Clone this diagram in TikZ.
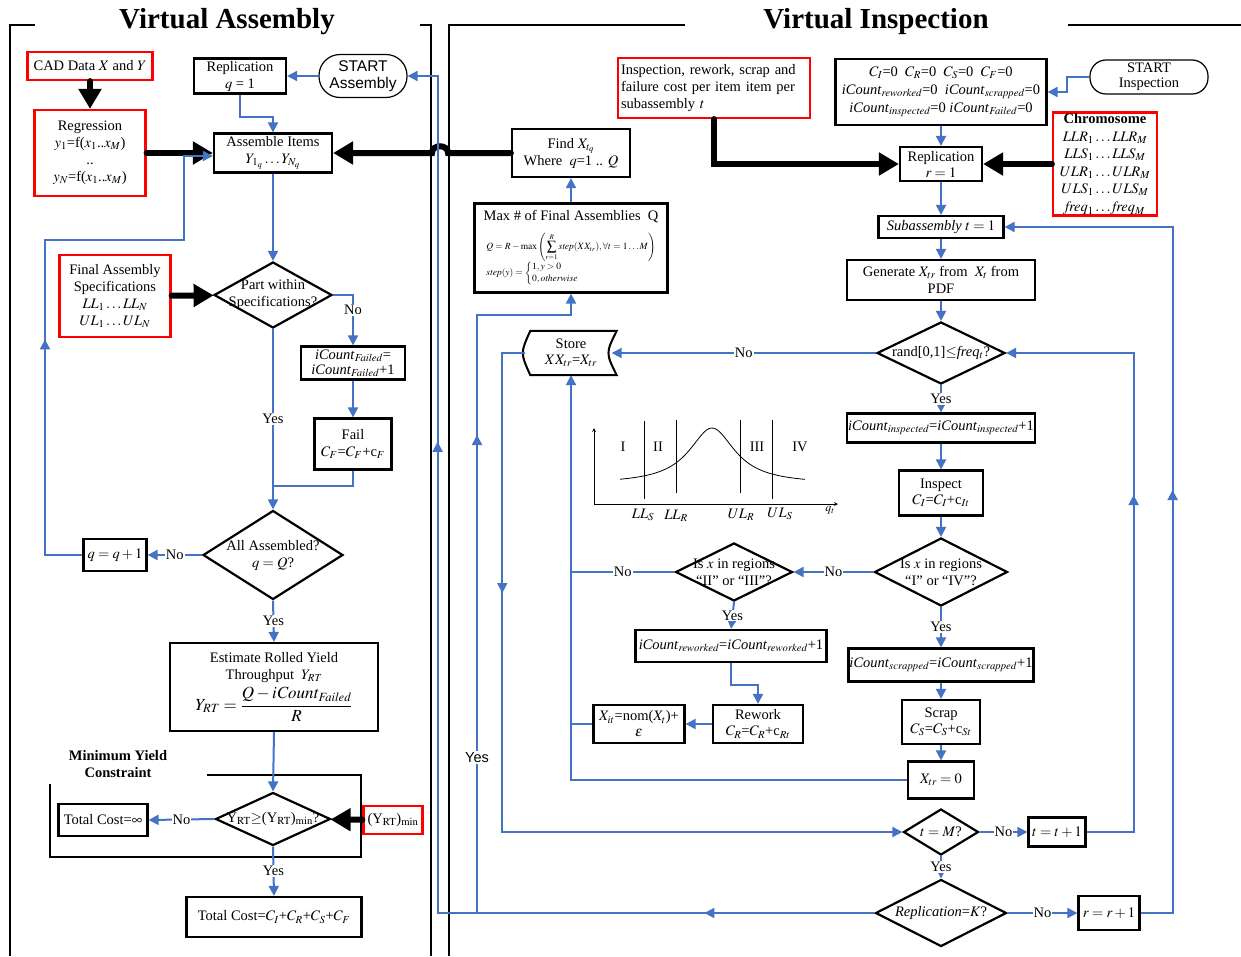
\documentclass[tikz,border=0pt]{standalone}
\usepackage{amsmath}
\usepackage{mathptmx}
\usepackage{fontspec}
\setmainfont{Liberation Serif}
\setsansfont{Liberation Sans}
\usetikzlibrary{shapes.geometric, arrows.meta, positioning, decorations.markings}
\definecolor{flowblue}{RGB}{68,114,196}
\tikzstyle{process} = [rectangle, draw=black, line width=2.2pt, align=center, inner sep=1pt]
\tikzstyle{given} = [rectangle, draw=red, line width=2.2pt, align=center, inner sep=1pt]
\tikzstyle{decision} = [diamond, draw=black, line width=2.2pt, inner sep=0pt]
\tikzstyle{startstop} = [rectangle, rounded corners=16pt, draw=black, line width=1.2pt, align=center, inner sep=0pt]
\tikzstyle{wire} = [color=flowblue, line width=2pt]
\tikzstyle{flow} = [wire, -{Triangle[length=10pt,width=10pt]}]
\tikzstyle{feed} = [line width=6pt, line cap=round, -{Triangle[length=20pt,width=22pt]}]
\tikzstyle{frame} = [line width=2pt]
\tikzstyle{answer} = [fill=white, text=black, inner sep=1pt]
\tikzset{midmark/.style={postaction={decorate, decoration={markings, mark=at position #1 with {\arrow{Triangle[length=10pt,width=10pt]}}}}}}
\newcommand{\icnt}[1]{\textit{iCount}$_{\mathit{#1}}$}

\begin{document}
\begin{tikzpicture}[x=1pt, y=-1pt, font=\fontsize{14.5}{17}\selectfont]
        \useasboundingbox (0,0) rectangle (1241,956);

        \draw[frame] (35,25) -| (10,956);
        \draw[frame] (420,25) -| (431,956);
        \draw[frame] (685,25) -| (449,956);
        \draw[frame] (1068,25) -- (1241,25);
        \node (vatitle) [font=\fontsize{29}{32}\selectfont\bfseries] at (227,22) {Virtual Assembly};
        \node (vititle) [font=\fontsize{29}{32}\selectfont\bfseries] at (876,22) {Virtual Inspection};

        \node (cad) [given, minimum width=125, minimum height=28] at (90,66) {CAD Data $X$ and $Y$};
        \node (regr) [given, minimum width=111, minimum height=86] at (90,153) {Regression\\$y_1$=f($x_1$..$x_M$)\\..\\$y_N$=f($x_1$..$x_M$)};
        \node (repq) [process, minimum width=92, minimum height=35] at (240,76) {Replication\\$q$ = 1};
        \node (startA) [startstop, rounded corners=21pt, minimum width=88, minimum height=43, font=\sffamily\fontsize{15.5}{17}\selectfont] at (363,76) {START\\Assembly};
        \node (assemble) [process, minimum width=118, minimum height=39] at (273,153) {Assemble Items\\$Y_{1_q}\ldots Y_{N_q}$};
        \node (finalspec) [given, minimum width=111, minimum height=82] at (115,296) {Final Assembly\\Specifications\\$LL_1\ldots LL_N$\\$UL_1\ldots UL_N$};
        \node (partok) [decision, minimum width=118, minimum height=66, label={[align=center]center:Part within\\Specifications?}] at (273,295) {};
        \node (failcnt) [process, minimum width=104, minimum height=33, font=\fontsize{14.5}{15}\selectfont] at (353,363) {\icnt{Failed}=\\\icnt{Failed}+1};
        \node (fail) [process, minimum width=77, minimum height=51] at (353,444) {Fail\\$C_F$=$C_F$+c$_F$};
        \node (allasm) [decision, minimum width=140, minimum height=89, label={[align=center]center:All Assembled?\\$q = Q$?}] at (273,555) {};
        \node (qinc) [process, minimum width=63, minimum height=32] at (115,555) {$q = q + 1$};
        \node (estimate) [process, minimum width=208, minimum height=88, inner sep=0pt] at (274,687) {Estimate Rolled Yield\\Throughput\ \ $Y_{RT}$\\[4pt]{\fontsize{17}{20}\selectfont $Y_{RT} = \dfrac{Q - \mathit{iCount}_{\mathit{Failed}}}{R}$}};
        \node (minlabel) [align=center, font=\fontsize{14.5}{17}\selectfont\bfseries] at (118,764) {Minimum Yield\\Constraint};
        \node (yieldok) [decision, minimum width=115, minimum height=53, label=center:{Y$_{\mathrm{RT}}$$\geq$(Y$_{\mathrm{RT}}$)$_{\mathrm{min}}$?}] at (273,819) {};
        \node (yieldmin) [given, minimum width=59, minimum height=28] at (393,820) {(Y$_{\mathrm{RT}}$)$_{\mathrm{min}}$};
        \node (costinf) [process, minimum width=89, minimum height=32] at (103,820) {Total Cost=$\infty$};
        \node (cost) [process, minimum width=175, minimum height=40] at (274,917) {Total Cost=$C_I$+$C_R$+$C_S$+$C_F$};
        \draw[frame] (207,775) -| (361,857) -| (50,784);

        \node (findx) [process, minimum width=118, minimum height=48] at (571,153) {Find $X_{t_q}$\\Where\ \ $q$=1 .. $Q$};
        \node (maxq) [process, minimum width=193, minimum height=89, inner sep=0pt] at (571,248) {Max \# of Final Assemblies\ \ Q\\[9pt]{\fontsize{9.5}{10}\selectfont $\begin{array}{@{}l@{}}\displaystyle Q = R - \max\left(\sum_{r=1}^{R} \mathit{step}(XX_{tr}), \forall t = 1\ldots M\right)\\[4pt] \mathit{step}(y) = \begin{cases}1, y>0\\ 0, \mathit{otherwise}\end{cases}\end{array}$}};
        \node (costin) [given, minimum width=192, minimum height=60, align=left, text width=186, inner sep=3pt] at (714,88) {Inspection, rework, scrap and\\failure cost per item item per\\subassembly $t$};
        \node (init) [process, minimum width=211, minimum height=66, font=\fontsize{14.5}{18}\selectfont] at (941,92) {$C_I$=0\ \ $C_R$=0\ \ $C_S$=0\ \ $C_F$=0\\\icnt{reworked}=0\ \ \icnt{scrapped}=0\\\icnt{inspected}=0 \icnt{Failed}=0};
        \node (startI) [startstop, minimum width=118, minimum height=34, font=\fontsize{14.5}{15}\selectfont] at (1149,77) {START\\Inspection};
        \node (repr) [process, minimum width=82, minimum height=34, font=\fontsize{14.5}{16}\selectfont] at (941,164) {Replication\\$r = 1$};
        \node (chromo) [given, minimum width=104, minimum height=103, font=\fontsize{14.5}{17.5}\selectfont] at (1105,164) {\textbf{Chromosome}\\$LLR_1\ldots LLR_M$\\$LLS_1\ldots LLS_M$\\$ULR_1\ldots ULR_M$\\$ULS_1\ldots ULS_M$\\$\mathit{freq}_1\ldots \mathit{freq}_M$};
        \node (subone) [process, minimum width=125, minimum height=22] at (941,227) {\textit{Subassembly}\ $t = 1$};
        \node (generate) [process, minimum width=188, minimum height=40] at (941,280) {Generate $X_{tr}$ from\ \ $X_t$ from\\PDF};
        \node (randok) [decision, minimum width=128, minimum height=62, label=center:{rand[0,1]$\leq$\textit{freq}$_t$?}] at (941,353) {};
        \node (store) [minimum width=91, minimum height=44, align=center, font=\fontsize{14.5}{16}\selectfont] at (571,353) {Store\\$XX_{tr}$=$X_{tr}$};
        \draw[frame] ([xshift=5]store.north west) -- (store.north east) .. controls ([xshift=-11]store.east) .. (store.south east) -- ([xshift=5]store.south west) .. controls ([xshift=-5]store.west) .. cycle;
        \node (inspcnt) [process, minimum width=184, minimum height=29] at (941,428) {\icnt{inspected}=\icnt{inspected}+1};
        \node (inspect) [process, minimum width=84, minimum height=45, font=\fontsize{14.5}{16}\selectfont] at (941,493) {Inspect\\$C_I$=$C_I$+c$_{It}$};
        \node (scrapq) [decision, minimum width=133, minimum height=68, label={[align=center]center:Is $x$ in regions\\``I'' or ``IV''?}] at (941,572) {};
        \node (reworkq) [decision, minimum width=117, minimum height=58, label={[align=center]center:Is $x$ in regions\\``II'' or ``III''?}] at (734,572) {};
        \node (reworkcnt) [process, minimum width=191, minimum height=32] at (731,646) {\icnt{reworked}=\icnt{reworked}+1};
        \node (rework) [process, minimum width=90, minimum height=38, font=\fontsize{14.5}{16}\selectfont] at (758,724) {Rework\\$C_R$=$C_R$+c$_{Rt}$};
        \node (renew) [process, minimum width=91, minimum height=38, font=\fontsize{14.5}{16}\selectfont] at (639,724) {$X_{it}$=nom($X_t$)+\\$\varepsilon$};
        \node (scrapcnt) [process, minimum width=184, minimum height=33] at (941,665) {\icnt{scrapped}=\icnt{scrapped}+1};
        \node (scrap) [process, minimum width=78, minimum height=44, font=\fontsize{14.5}{16}\selectfont] at (941,722) {Scrap\\$C_S$=$C_S$+c$_{St}$};
        \node (zero) [process, minimum width=66, minimum height=37] at (941,780) {$X_{tr} = 0$};
        \node (lastsub) [decision, minimum width=75, minimum height=46, label=center:{$t = M$?}] at (941,832) {};
        \node (tinc) [process, minimum width=57, minimum height=29] at (1057,832) {$t = t + 1$};
        \node (lastrep) [decision, minimum width=131, minimum height=67, label=center:{\textit{Replication}=$K$?}] at (941,913) {};
        \node (rinc) [process, minimum width=61, minimum height=34] at (1109,913) {$r = r + 1$};

        \draw[<->, >=stealth, line width=0.8pt] (594,428) -- (594,504) -- (838,504);
        \draw[line width=0.8pt] (644,421) -- (644,499);
        \draw[line width=0.8pt] (676,420) -- (676,493);
        \draw[line width=0.8pt] (740,420) -- (740,493);
        \draw[line width=0.8pt] (772,420) -- (772,499);
        \draw[line width=0.8pt] plot[domain=620:805, samples=80, smooth] (\x, {484 - 56/(1+((\x-712)/28)^2)});
        \node (regI) at (623,447) {I};
        \node (regII) at (658,447) {II};
        \node (regIII) at (757,447) {III};
        \node (regIV) at (800,447) {IV};
        \node (lls) at (643,515) {$LL_S$};
        \node (llr) at (676,516) {$LL_R$};
        \node (ulr) at (741,515) {$UL_R$};
        \node (uls) at (780,514) {$UL_S$};
        \node (qt) [font=\fontsize{12}{14}\selectfont] at (830,510) {$q_t$};

        \coordinate (hopR) at (448,153);
        \coordinate (hopL) at (432,153);
        \coordinate (yesfork) at (477,913);

        \draw[feed] (cad) -- (regr);
        \draw[feed] (regr) -- (assemble);
        \draw[feed] (finalspec) -- (partok);
        \draw[feed] (yieldmin) -- (yieldok);
        \draw[feed] (findx.west) -- (hopR) .. controls (448,144) and (432,144) .. (hopL) -- (assemble.east);
        \draw[feed] (costin.south) |- (repr.west);
        \draw[feed] (chromo.west) -- (repr.east);

        \draw[flow] (startA) -- (repq);
        \draw[flow] (repq.south) -- ++(0,22) -| (assemble.north);
        \draw[flow] (assemble) -- (partok);
        \draw[flow, midmark=253pt] (qinc.west) -| (45,240) -| ([xshift=-29,yshift=-3]assemble.west) -- ([yshift=-3]assemble.west);
        \draw[flow] (partok.east) -| node[answer, pos=0.65] {No} (failcnt.north);
        \draw[flow] (failcnt) -- (fail);
        \draw[wire] (fail.south) -- ++(0,15) -| (partok.south);
        \draw[flow] (partok.south) -- node[answer] {Yes} (allasm.north);
        \draw[flow] (allasm.west) -- node[answer] {No} (qinc.east);
        \draw[flow] (allasm.south) -- node[answer] {Yes} (estimate.north);
        \draw[flow] (estimate.south) -- (yieldok.north);
        \draw[flow] (yieldok.west) -- node[answer] {No} (costinf.east);
        \draw[flow] (yieldok.south) -- node[answer] {Yes} (cost.north);

        \draw[flow] (maxq.north) -- (findx.south);
        \draw[flow] (startI.west) -- ++(-22,0) |- (init.east);
        \draw[flow] (init) -- (repr);
        \draw[flow] (repr) -- (subone);
        \draw[flow] (subone) -- (generate);
        \draw[flow] (generate) -- (randok);
        \draw[flow] (randok.west) -- node[answer] {No} ([xshift=-5]store.east);
        \draw[flow] (randok.south) -- node[answer] {Yes} (inspcnt.north);
        \draw[flow] (inspcnt) -- (inspect);
        \draw[flow] (inspect) -- (scrapq);
        \draw[flow] (scrapq.west) -- node[answer] {No} (reworkq.east);
        \draw[wire] (reworkq.west) -- node[answer] {No} (store.south |- reworkq.west);
        \draw[flow] (reworkq.south) -- node[answer] {Yes} (reworkcnt.north);
        \draw[flow] (reworkcnt.south) -- ++(0,22) -| (rework.north);
        \draw[flow] (rework) -- (renew);
        \draw[wire] (renew.west) -- (store.south |- renew.west);
        \draw[flow] (scrapq.south) -- node[answer] {Yes} (scrapcnt.north);
        \draw[flow] (scrapcnt) -- (scrap);
        \draw[flow] (scrap) -- (zero);
        \draw[flow] (zero.west) -| (store.south);
        \draw[flow, midmark=263pt] (store.west) -- ++(-23,0) |- (lastsub.west);
        \draw[flow] (lastsub.east) -- node[answer] {No} (tinc.west);
        \draw[flow] (lastsub.south) -- node[answer] {Yes} (lastrep.north);
        \draw[flow, midmark=384pt] (tinc.east) -- ++(47,0) |- (randok.east);
        \draw[flow] (lastrep.east) -- node[answer] {No} (rinc.west);
        \draw[flow, midmark=455pt] (rinc.east) -- ++(32,0) |- (subone.east);
        \draw[flow, midmark=170pt, midmark=908pt] (lastrep.west) -| ([xshift=30]startA.east) -- (startA.east);
        \draw[flow, midmark=478pt] (yesfork) |- node[answer, pos=0.13, font=\sffamily\fontsize{14.5}{17}\selectfont] {Yes} ([yshift=-21.5]maxq.south) -- (maxq.south);

\end{tikzpicture}
\end{document}
